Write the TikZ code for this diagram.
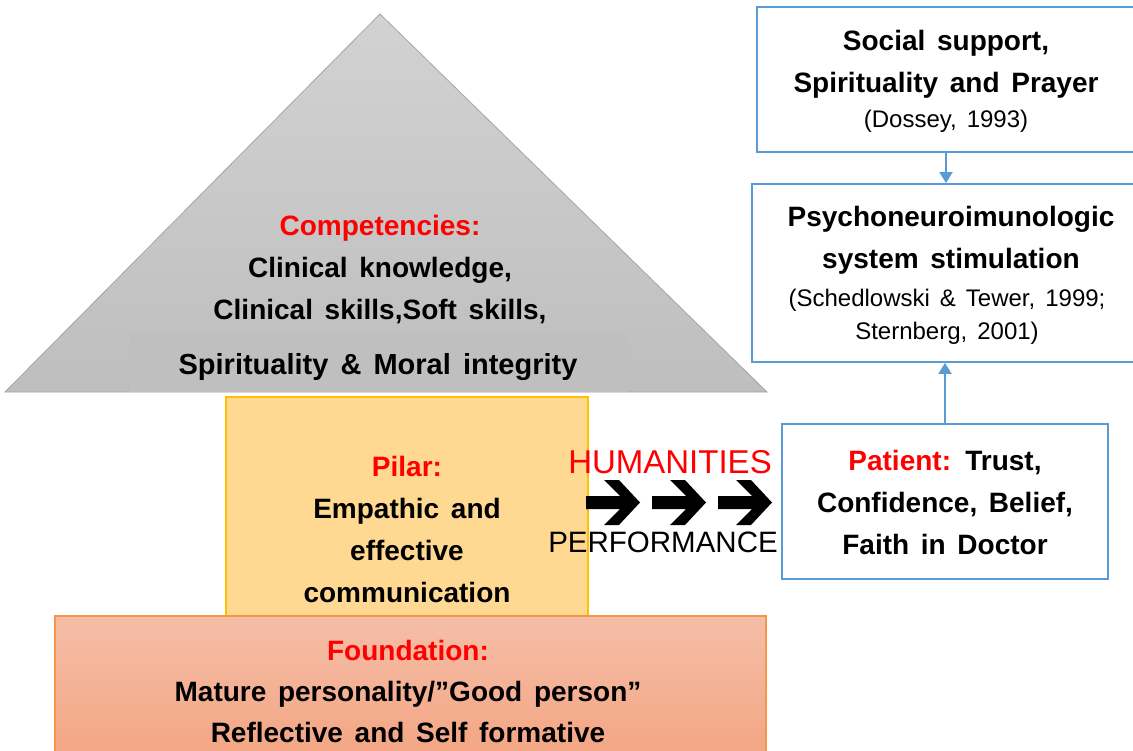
\documentclass[tikz,border=0pt]{standalone}
\usepackage{fontspec}
\setmainfont{Liberation Sans}[WordSpace=1.5]
\usetikzlibrary{arrows.meta}
\definecolor{boxblue}{HTML}{5B9BD5}
\definecolor{redtxt}{HTML}{FF0000}
\definecolor{trigtop}{HTML}{D2D2D2}
\definecolor{trigbot}{HTML}{BEBEBE}
\definecolor{trigedge}{HTML}{A6A6A6}
\definecolor{spirfill}{HTML}{BFBFBF}
\definecolor{pilarfill}{HTML}{FFD891}
\definecolor{pilaredge}{HTML}{FFC000}
\definecolor{foundtop}{HTML}{F5BEA8}
\definecolor{foundbot}{HTML}{F3A37F}
\definecolor{foundedge}{HTML}{F79646}
\tikzset{
  maintxt/.style={font=\fontsize{28}{42}\selectfont\bfseries, align=center, inner sep=0pt},
  citetxt/.style={font=\fontsize{24}{33}\selectfont, align=center, inner sep=0pt},
  bigtxt/.style={inner sep=0pt},
  bluebox/.style={draw=boxblue, line width=1.8pt, fill=white, inner sep=0pt},
  conn/.style={draw=boxblue, line width=1.8pt, -{Triangle[length=11pt,width=13pt]}},
  blockarrow/.style={fill=black, draw=none},
}
\newcommand{\redlbl}[1]{\textcolor{redtxt}{#1}}
\begin{document}
\begin{tikzpicture}[x=1pt,y=-1pt]
\useasboundingbox (0,0) rectangle (1133,751);
\fill[white] (0,0) rectangle (1133,751);
% triangle (competencies)
\shade[top color=trigtop, bottom color=trigbot, draw=trigedge, line width=0.8pt]
  (380,14) -- (767,392) -- (5,392) -- cycle;
\node[fill=spirfill, minimum width=497pt, minimum height=59pt, inner sep=0pt] (spir) at (378.5,362.5) {};
\node[maintxt, font=\fontsize{29}{42}\selectfont\bfseries] (spirt) at (378,367) {Spirituality \& Moral integrity};
\node[maintxt] (comp) at (380,270) {\redlbl{Competencies:}\\Clinical knowledge,\\Clinical skills,Soft skills,};
% pilar
\node[fill=pilarfill, draw=pilaredge, line width=1.2pt, minimum width=362pt, minimum height=219pt, inner sep=0pt] (pilar) at (407,506.5) {};
\node[maintxt] (pilartxt) at (407,529) {\redlbl{Pilar:}\\Empathic and\\effective\\communication};
% foundation
\shade[top color=foundtop, bottom color=foundbot, draw=foundedge, line width=1.2pt]
  (55,616) rectangle (766,770);
\node[maintxt, font=\fontsize{28}{41}\selectfont\bfseries] (found) at (408,691) {\redlbl{Foundation:}\\Mature personality/"Good person"\\Reflective and Self formative};
% right boxes
\node[bluebox, minimum width=383pt, minimum height=145pt] (box1) at (948.5,79.5) {};
\node[maintxt] (box1t) at (946,64) {Social support,\\Spirituality and Prayer};
\node[citetxt] (box1c) at (946,121) {(Dossey, 1993)};
\node[bluebox, minimum width=388pt, minimum height=178pt] (box2) at (946,273) {};
\node[maintxt] (box2t) at (951,240) {Psychoneuroimunologic\\system stimulation};
\node[citetxt] (box2c) at (947,317) {(Schedlowski \& Tewer, 1999;\\Sternberg, 2001)};
\node[bluebox, minimum width=326pt, minimum height=155pt] (patient) at (945,501.5) {};
\node[maintxt] (patientt) at (945,502) {\redlbl{Patient:} Trust,\\Confidence, Belief,\\Faith in Doctor};
% connectors
\draw[conn] (box1.south -| box1t.center) -- (box2.north -| box1t.center);
\draw[conn] (patient.north) -- (box2.south -| patient.north);
% humanities / performance
\node[bigtxt, text=redtxt, font=\fontsize{33}{36}\selectfont] (hum) at (670,462) {HUMANITIES};
\node[bigtxt, font=\fontsize{29.5}{36}\selectfont] (perf) at (663,542) {PERFORMANCE};
\foreach \s in {586,652,718}{
  \fill[blockarrow] (\s,496) -- (\s+34,496) -- (\s+18,480) -- (\s+33,480) -- (\s+54,502.5)
    -- (\s+33,525) -- (\s+18,525) -- (\s+34,509) -- (\s,509) -- cycle;
}
\end{tikzpicture}
\end{document}
